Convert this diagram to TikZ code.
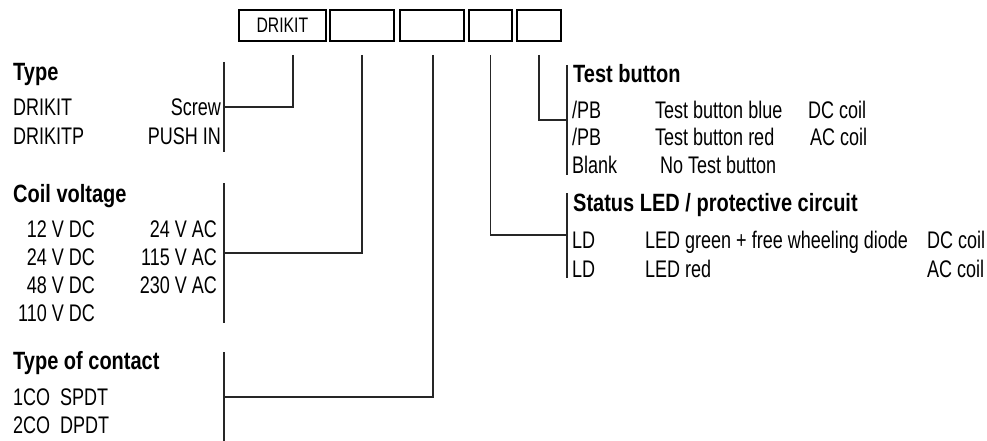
\documentclass[tikz,border=0pt]{standalone}
\usepackage{fontspec}
\setmainfont{Liberation Sans}[FakeStretch=0.75]
\newfontfamily\headfont{Liberation Sans}[FakeStretch=0.8]
\usepackage{tikz}

\tikzset{
  codebox/.style={draw,line width=2.2pt,minimum height=31pt,inner sep=0pt,font=\fontsize{21}{24}\selectfont},
  entry/.style={inner sep=0pt,anchor=base west,font=\fontsize{24}{28}\selectfont},
  entryr/.style={entry,anchor=base east},
  heading/.style={inner sep=0pt,anchor=base west,font=\headfont\bfseries\fontsize{25}{29}\selectfont},
  lead/.style={line width=1.2pt,black!85}
}

\begin{document}
\begin{tikzpicture}[x=1pt,y=-1pt]
\useasboundingbox (0,0) rectangle (987,441);
% order code boxes
\path (282.4,25.5) node (bdrikit) [codebox,minimum width=87pt] {DRIKIT};
\path (362,25.5) node (bcoil) [codebox,minimum width=64pt] {};
\path (432,25.5) node (bcontact) [codebox,minimum width=64pt] {};
\path (490.5,25.5) node (bled) [codebox,minimum width=43pt] {};
\path (539,25.5) node (btest) [codebox,minimum width=44pt] {};

% Type
\path (13,81) node (htype) [heading] {Type};
\path (13,116) node (drikit) [entry] {DRIKIT};
\path (13,144) node (drikitp) [entry] {DRIKITP};
\path (221,116) node (screw) [entryr] {Screw};
\path (221,144) node (pushin) [entryr] {PUSH IN};

% Coil voltage
\path (13,202) node (hcoil) [heading] {Coil voltage};
\path (95,237) node (dc12) [entryr] {12 V DC};
\path (95,265) node (dc24) [entryr] {24 V DC};
\path (95,293) node (dc48) [entryr] {48 V DC};
\path (95,321) node (dc110) [entryr] {110 V DC};
\path (217,237) node (ac24) [entryr] {24 V AC};
\path (217,265) node (ac115) [entryr] {115 V AC};
\path (217,293) node (ac230) [entryr] {230 V AC};

% Type of contact
\path (13,369) node (hcontact) [heading] {Type of contact};
\path (13,405) node (co1) [entry] {1CO};
\path (13,433) node (co2) [entry] {2CO};
\path (60,405) node (spdt) [entry] {SPDT};
\path (60,433) node (dpdt) [entry] {DPDT};

% Test button
\path (573,83) node (htest) [heading] {Test button};
\path (572,118) node (pb1) [entry] {/PB};
\path (572,146) node (pb2) [entry] {/PB};
\path (572,173) node (blank) [entry] {Blank};
\path (655,118) node (tbblue) [entry] {Test button blue};
\path (655,146) node (tbred) [entry] {Test button red};
\path (660,173) node (notb) [entry] {No Test button};
\path (808,118) node (tbdc) [entry] {DC coil};
\path (810,146) node (tbac) [entry] {AC coil};

% Status LED
\path (573,211) node (hled) [heading] {Status LED / protective circuit};
\path (572,248) node (ld1) [entry] {LD};
\path (572,277) node (ld2) [entry] {LD};
\path (645,248) node (ledgreen) [entry] {LED green + free wheeling diode};
\path (645,277) node (ledred) [entry] {LED red};
\path (927,248) node (leddc) [entry] {DC coil};
\path (927,277) node (ledac) [entry] {AC coil};

% brackets
\coordinate (typetop) at (224,62);   \coordinate (typebot) at (224,152);   \coordinate (typeknee) at (224,107);
\coordinate (coiltop) at (224,183);  \coordinate (coilbot) at (224,323);   \coordinate (coilknee) at (224,253);
\coordinate (conttop) at (224,352);  \coordinate (contbot) at (224,441);   \coordinate (contknee) at (224,397);
\coordinate (testtop) at (567,65);   \coordinate (testbot) at (567,175);   \coordinate (testknee) at (567,120);
\coordinate (ledtop) at (567,193);   \coordinate (ledbot) at (567,278);    \coordinate (ledknee) at (567,235);
\draw [lead] (typetop) to (typebot);
\draw [lead] (coiltop) to (coilbot);
\draw [lead] (conttop) to (contbot);
\draw [lead] (testtop) to (testbot);
\draw [lead] (ledtop) to (ledbot);

% leaders from the boxes
\coordinate (ltype) at (293,55);
\coordinate (lcoil) at (bcoil.center |- ltype);
\coordinate (lcontact) at (433,55);
\coordinate (lled) at (bled.center |- ltype);
\coordinate (ltest) at (btest.center |- ltype);
\draw [lead] (ltype) |- (typeknee);
\draw [lead] (lcoil) |- (coilknee);
\draw [lead] (lcontact) |- (contknee);
\draw [lead] (lled) |- (ledknee);
\draw [lead] (ltest) |- (testknee);
\end{tikzpicture}
\end{document}
